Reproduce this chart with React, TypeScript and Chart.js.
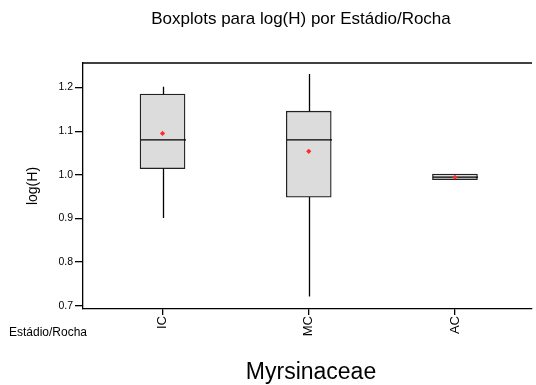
import React, { useEffect, useRef } from "react";
import { Chart, registerables } from "chart.js";

Chart.register(...registerables);

const categories = ["IC", "MC", "AC"];
const positions = [1, 2, 3];
const whiskerLow = [0.901, 0.721, 0.99];
const q1 = [1.014, 0.949, 0.989];
const median = [1.08, 1.08, 0.995];
const q3 = [1.185, 1.146, 1.002];
const whiskerHigh = [1.202, 1.231, 1.002];
const mean = [1.095, 1.054, 0.9945];
const yTicks = [0.7, 0.8, 0.9, 1.0, 1.1, 1.2];

const FONT = "'Liberation Sans', Arial, sans-serif";

const boxPlugin = {
  id: "boxExtras",
  afterDatasetDraw(chart: any, args: any) {
    if (args.index !== 0) return;
    const { ctx, scales } = chart;
    const xs = scales.x;
    const ys = scales.y;
    const meta = chart.getDatasetMeta(0);
    ctx.save();
    ctx.strokeStyle = "#000";
    ctx.lineWidth = 1.3;
    positions.forEach((p, i) => {
      const cx = Math.round(xs.getPixelForValue(p)) + 0.5;
      const bar = meta.data[i];
      const half = bar.width / 2;
      ctx.beginPath();
      ctx.moveTo(cx, ys.getPixelForValue(whiskerLow[i]));
      ctx.lineTo(cx, ys.getPixelForValue(q1[i]));
      ctx.moveTo(cx, ys.getPixelForValue(q3[i]));
      ctx.lineTo(cx, ys.getPixelForValue(whiskerHigh[i]));
      ctx.stroke();
      const my = ys.getPixelForValue(median[i]);
      ctx.beginPath();
      ctx.moveTo(cx - half, my);
      ctx.lineTo(cx + half, my);
      ctx.stroke();
    });
    ctx.restore();
  },
  afterDraw(chart: any) {
    const { ctx, chartArea } = chart;
    ctx.save();
    ctx.strokeStyle = "#000";
    ctx.lineWidth = 1.3;
    ctx.beginPath();
    ctx.moveTo(chartArea.left, chartArea.top);
    ctx.lineTo(chartArea.right, chartArea.top);
    ctx.stroke();
    ctx.fillStyle = "#000";
    ctx.textAlign = "center";
    ctx.textBaseline = "middle";
    ctx.font = `17px ${FONT}`;
    ctx.fillText("Boxplots para log(H) por Estádio/Rocha", 301, 19);
    ctx.font = `23px ${FONT}`;
    ctx.fillText("Myrsinaceae", 311, 373);
    ctx.font = `12px ${FONT}`;
    ctx.textAlign = "left";
    ctx.fillText("Estádio/Rocha", 9, 333);
    ctx.save();
    ctx.translate(33, (chartArea.top + chartArea.bottom) / 2);
    ctx.rotate(-Math.PI / 2);
    ctx.textAlign = "center";
    ctx.font = `14px ${FONT}`;
    ctx.fillText("log(H)", 0, 0);
    ctx.restore();
    ctx.restore();
  },
};

export default function App() {
  const ref = useRef<HTMLCanvasElement>(null);
  useEffect(() => {
    if (!ref.current) return;
    document.body.style.margin = "0";
    const chart = new Chart(ref.current, {
      type: "bar",
      data: {
        datasets: [
          {
            type: "bar",
            data: positions.map((p, i) => ({ x: p, y: [q1[i], q3[i]] })) as any,
            backgroundColor: "#dcdcdc",
            borderColor: "#222",
            borderWidth: 1.3,
            borderSkipped: false,
            barThickness: 45,
            order: 2,
          } as any,
          {
            type: "scatter",
            data: positions.map((p, i) => ({ x: p, y: mean[i] })),
            pointStyle: "rectRot",
            radius: 2.6,
            backgroundColor: "#ff2a2a",
            borderColor: "#ff2a2a",
            borderWidth: 0,
            order: 1,
          } as any,
        ],
      },
      plugins: [boxPlugin],
      options: {
        animation: false,
        responsive: false,
        layout: { padding: { left: 0, right: 0, top: 63, bottom: 0 } },
        plugins: { legend: { display: false }, tooltip: { enabled: false } },
        scales: {
          x: {
            type: "linear",
            offset: false,
            min: 0.456,
            max: 3.527,
            afterBuildTicks: (s: any) => {
              s.ticks = positions.map((v) => ({ value: v }));
            },
            afterFit: (s: any) => {
              s.height = 76;
            },
            ticks: {
              callback: (v: any) => categories[positions.indexOf(Number(v))] ?? "",
              minRotation: 90,
              maxRotation: 90,
              autoSkip: false,
              color: "#000",
              padding: 1,
              font: { family: FONT, size: 13 },
            },
            grid: {
              display: true,
              offset: false,
              drawOnChartArea: false,
              drawTicks: true,
              tickLength: 6,
              color: "#000",
              lineWidth: 1.3,
            },
            border: { display: true, color: "#000", width: 1.3 },
          },
          y: {
            type: "linear",
            min: 0.6925,
            max: 1.2564,
            afterBuildTicks: (s: any) => {
              s.ticks = yTicks.map((v) => ({ value: v }));
            },
            afterFit: (s: any) => {
              s.width = 83;
            },
            ticks: {
              callback: (v: any) => Number(v).toFixed(1),
              color: "#000",
              padding: 2,
              font: { family: FONT, size: 10.5 },
            },
            grid: {
              display: true,
              drawOnChartArea: false,
              drawTicks: true,
              tickLength: 8,
              color: "#000",
              lineWidth: 1.3,
            },
            border: { display: true, color: "#000", width: 1.3 },
          },
        },
      } as any,
    });
    return () => chart.destroy();
  }, []);
  return (
    <div style={{ position: "fixed", left: 0, top: 0, width: 536, height: 385, background: "#fff" }}>
      <canvas ref={ref} width={536} height={385} />
    </div>
  );
}
